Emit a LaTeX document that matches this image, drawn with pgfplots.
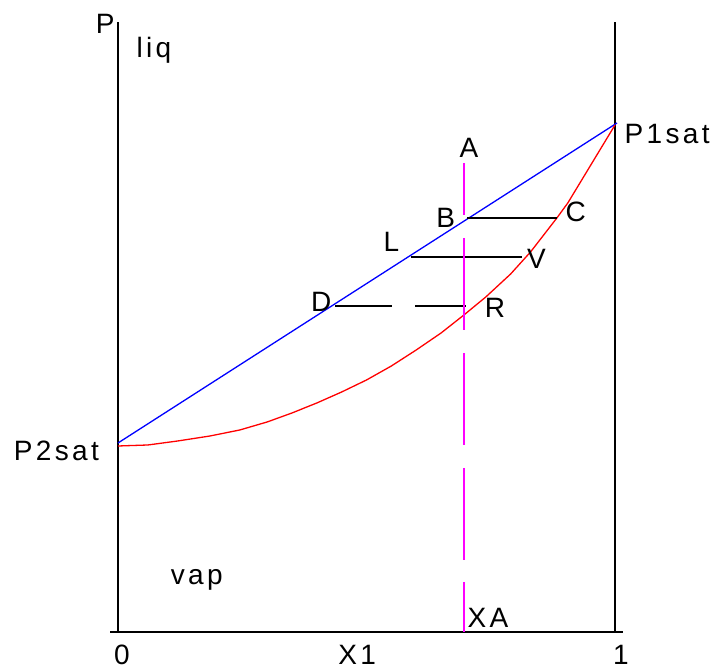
\documentclass[border=0pt]{standalone}
\usepackage{pgfplots}
\pgfplotsset{compat=1.18}
\usepackage{fontspec}
\setmainfont{Liberation Sans}[LetterSpace=12]
\definecolor{pmag}{RGB}{255,0,255}
\definecolor{pblue}{RGB}{0,0,255}
\definecolor{pred}{RGB}{255,0,0}
\tikzset{lbl/.style={inner sep=0pt, font=\fontsize{28}{30}\selectfont}}

% Pxy diagram of an ideal binary mixture: bubble line (blue), dew line (red)
\begin{document}
\begin{tikzpicture}
\begin{axis}[
  x=497pt, y=1pt,
  xmin=-0.25, xmax=1.2, ymin=-45, ymax=640,
  axis lines=none, clip=false,
]
\coordinate (O) at (axis cs:0,0);

% frame: two pure-component verticals and the composition axis
\addplot[black, line width=1.6pt] coordinates {(0,0) (0,610)};
\addplot[black, line width=1.6pt] coordinates {(1,0) (1,610)};
\addplot[black, line width=1.6pt] coordinates {(-0.016,0) (1.016,0)};

% bubble-point line
\addplot[pblue, line width=1.3pt] coordinates {(0,189) (1.004,509)};

% dew-point curve
\addplot[pred, line width=1.3pt] coordinates {
  (0,186) (0.06,187) (0.12,191) (0.185,196) (0.245,202) (0.30,210)
  (0.35,219) (0.40,229) (0.45,240) (0.50,252) (0.55,266) (0.60,282)
  (0.65,299) (0.696,317) (0.74,335) (0.79,358) (0.83,380) (0.883,414)
  (0.905,429) (0.944,461) (1,507)};

% tie lines
\addplot[black, line width=1.4pt] coordinates {(0.703,414) (0.883,414)};
\addplot[black, line width=1.4pt] coordinates {(0.590,375) (0.812,375)};
\addplot[black, line width=1.4pt] coordinates {(0.437,326) (0.551,326)};
\addplot[black, line width=1.4pt] coordinates {(0.598,326) (0.700,326)};

% overall composition xA, drawn as long dashes
\addplot[pmag, line width=1.6pt] coordinates {(0.696,469) (0.696,417)};
\addplot[pmag, line width=1.6pt] coordinates {(0.696,394) (0.696,302)};
\addplot[pmag, line width=1.6pt] coordinates {(0.696,279) (0.696,187)};
\addplot[pmag, line width=1.6pt] coordinates {(0.696,164) (0.696,72)};
\addplot[pmag, line width=1.6pt] coordinates {(0.696,50) (0.696,0)};

% labels
\node[lbl, anchor=base west] at (axis cs:-0.045,598) {P};
\node[lbl, anchor=base west] at (axis cs:0.037,574) {liq};
\node[lbl, anchor=base west] at (axis cs:1.019,488) {P1sat};
\node[lbl, anchor=base west] at (axis cs:-0.210,171) {P2sat};
\node[lbl, anchor=base west] at (axis cs:0.687,474) {A};
\node[lbl, anchor=base west] at (axis cs:0.640,404) {B};
\node[lbl, anchor=base west] at (axis cs:0.534,380) {L};
\node[lbl, anchor=base west] at (axis cs:0.388,320) {D};
\node[lbl, anchor=base west] at (axis cs:0.738,314) {R};
\node[lbl, anchor=base west] at (axis cs:0.823,363) {V};
\node[lbl, anchor=base west] at (axis cs:0.900,410) {C};
\node[lbl, anchor=base west] at (axis cs:0.106,47) {vap};
\node[lbl, anchor=base west] at (axis cs:0.703,4) {XA};
\node[lbl, anchor=base] at (axis cs:0.008,-33) {0};
\node[lbl, anchor=base] at (axis cs:0.481,-33) {X1};
\node[lbl, anchor=base] at (axis cs:1.012,-33) {1};
\end{axis}
\pgfresetboundingbox
\useasboundingbox (O) ++(-118pt,-39pt) rectangle ++(715pt,671pt);
\end{tikzpicture}
\end{document}
